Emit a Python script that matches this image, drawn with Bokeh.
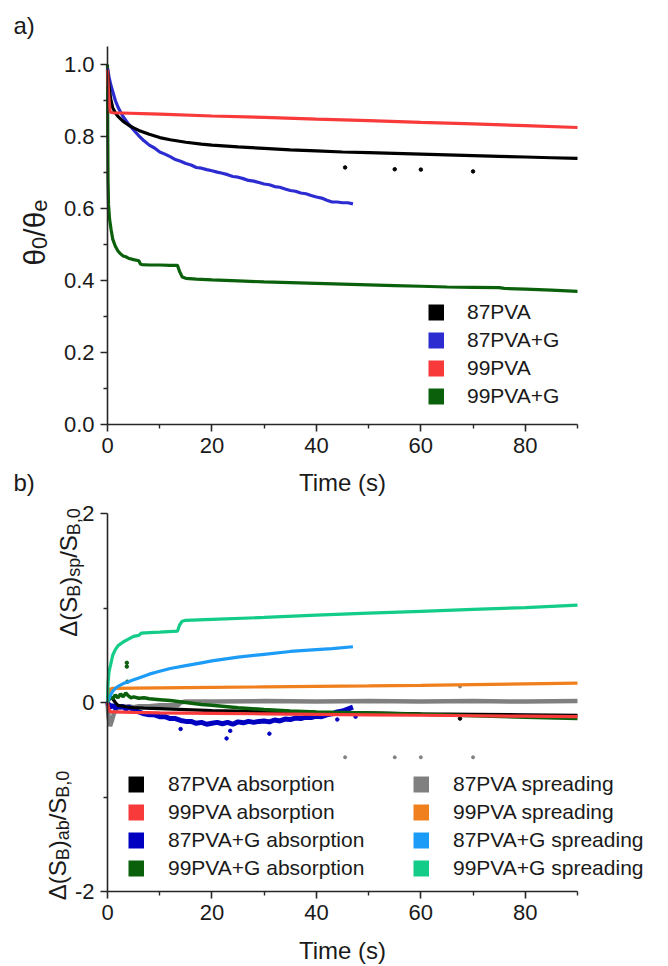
import math
from bokeh.plotting import figure
from bokeh.models import (FixedTicker, Label, Legend, LegendItem, Range1d,
                          NumeralTickFormatter)
from bokeh.layouts import column
from bokeh.embed import file_html
from bokeh.resources import INLINE

FONT = "Liberation Sans"

# ---------------- panel a) data: theta0/thetae vs time (s) ----------------
t_87 = [0, 0.3, 0.6, 1, 1.5, 2, 3, 4, 5, 6, 8, 10, 12, 15, 18, 20, 25, 30, 35, 40,
        45, 50, 55, 60, 65, 70, 75, 80, 85, 90]
y_87 = [0.985, 0.94, 0.905, 0.88, 0.866, 0.856, 0.842, 0.832, 0.824, 0.817, 0.806,
        0.797, 0.791, 0.784, 0.779, 0.776, 0.771, 0.767, 0.763, 0.760, 0.757, 0.755,
        0.753, 0.751, 0.749, 0.747, 0.745, 0.743, 0.741, 0.739]
t_87_out = [45.5, 55.0, 60.0, 70.0]
y_87_out = [0.714, 0.709, 0.708, 0.703]

t_87g = [0, 0.3, 0.6, 1, 1.5, 2, 2.5, 3, 4, 5, 6, 7, 8, 9, 10, 11, 12, 13, 14, 15,
         16, 17, 18, 19, 20, 21, 22, 23, 24, 25, 26, 27, 28, 29, 30, 31, 32, 33, 34,
         35, 36, 37, 38, 39, 40, 41, 42, 43, 44, 45, 46, 47]
y_87g = [0.99, 0.965, 0.945, 0.925, 0.9, 0.882, 0.868, 0.855, 0.835, 0.818, 0.802,
         0.788, 0.776, 0.768, 0.757, 0.751, 0.744, 0.736, 0.731, 0.725, 0.721, 0.714,
         0.712, 0.708, 0.705, 0.701, 0.698, 0.694, 0.689, 0.687, 0.683, 0.678, 0.676,
         0.672, 0.668, 0.666, 0.661, 0.659, 0.654, 0.650, 0.648, 0.643, 0.641, 0.636,
         0.632, 0.629, 0.623, 0.618, 0.618, 0.616, 0.616, 0.613]

t_99 = [0, 0.2, 0.5, 1, 10, 20, 30, 40, 50, 60, 70, 80, 90]
y_99 = [0.985, 0.92, 0.868, 0.866, 0.862, 0.857, 0.853, 0.848, 0.844, 0.839, 0.835,
        0.830, 0.825]

t_99g = [0, 0.05, 0.1, 0.2, 0.4, 0.7, 1, 1.5, 2, 2.5, 3, 3.5, 4, 5, 6, 6.3, 6.6, 8,
         10, 12, 13.4, 13.8, 14.3, 15, 17, 20, 25, 30, 35, 40, 45, 50, 55, 60, 65,
         70, 75, 76, 80, 85, 90]
y_99g = [1.0, 0.8, 0.68, 0.61, 0.57, 0.54, 0.515, 0.495, 0.482, 0.474, 0.468, 0.466,
         0.462, 0.458, 0.455, 0.446, 0.444, 0.443, 0.443, 0.442, 0.442, 0.425, 0.41,
         0.406, 0.404, 0.402, 0.399, 0.396, 0.394, 0.392, 0.390, 0.388, 0.386, 0.384,
         0.382, 0.381, 0.380, 0.378, 0.376, 0.373, 0.370]

labels_a = ["87PVA", "87PVA+G", "99PVA", "99PVA+G"]

# ---------------- panel b) data: surface change vs time (s) ----------------
t_sp99g = [0, 0.1, 0.3, 0.6, 1, 1.5, 2, 2.5, 3, 4, 5, 6, 6.5, 8, 10, 13.4, 13.8,
           14.3, 15, 20, 30, 40, 50, 60, 70, 80, 90]
y_sp99g = [0, 0.2, 0.33, 0.4, 0.5, 0.56, 0.6, 0.62, 0.64, 0.67, 0.70, 0.71, 0.735,
           0.74, 0.745, 0.755, 0.82, 0.86, 0.87, 0.88, 0.90, 0.925, 0.945, 0.965,
           0.985, 1.005, 1.03]

t_sp87g = [0, 0.3, 0.6, 1, 1.5, 2, 3, 4, 5, 6, 8, 10, 12, 15, 18, 20, 25, 30, 35,
           40, 43, 47]
y_sp87g = [0, 0.04, 0.08, 0.12, 0.15, 0.17, 0.2, 0.22, 0.24, 0.26, 0.3, 0.33, 0.36,
           0.39, 0.42, 0.44, 0.48, 0.51, 0.54, 0.56, 0.57, 0.59]

t_sp99 = [0, 0.2, 0.5, 1, 5, 10, 20, 30, 40, 50, 60, 70, 80, 90]
y_sp99 = [0, 0.1, 0.14, 0.15, 0.152, 0.155, 0.16, 0.165, 0.17, 0.175, 0.182, 0.19,
          0.197, 0.205]

t_sp87 = [0, 0.2, 0.5, 0.8, 1.2, 1.6, 2, 3, 4, 5, 6, 8, 10, 12, 13.5, 14, 15, 20,
          30, 40, 50, 60, 70, 80, 90]
y_sp87 = [0, -0.15, -0.25, -0.2, -0.12, -0.08, -0.05, -0.05, -0.04, -0.05, -0.04,
          -0.04, -0.03, -0.03, -0.03, 0.0, 0.01, 0.01, 0.015, 0.01, 0.015, 0.01,
          0.015, 0.01, 0.015]
t_sp87_out = [45.5, 55.0, 60.0, 70.0, 67.5]
y_sp87_out = [-0.58, -0.58, -0.58, -0.58, 0.17]

t_ab87 = [0, 0.3, 0.6, 1, 1.5, 2, 3, 4, 5, 7, 10, 15, 20, 25, 30, 40, 50, 60, 70,
          80, 90]
y_ab87 = [0, 0.03, 0.06, 0.04, 0.0, -0.03, -0.04, -0.05, -0.055, -0.06, -0.065,
          -0.075, -0.085, -0.09, -0.095, -0.105, -0.11, -0.12, -0.125, -0.13, -0.135]
t_ab87_out = [67.5]
y_ab87_out = [-0.17]

t_ab99 = [0, 0.2, 0.5, 1, 5, 10, 20, 30, 40, 50, 60, 70, 80, 90]
y_ab99 = [0, -0.06, -0.1, -0.1, -0.105, -0.11, -0.115, -0.12, -0.125, -0.13, -0.135,
          -0.14, -0.145, -0.15]

t_ab99g = [0, 0.3, 0.6, 1, 1.5, 2, 2.5, 3, 3.5, 4, 4.5, 5, 6, 7, 8, 10, 12, 15, 18,
           20, 25, 30, 35, 40, 45, 50, 60, 70, 80, 90]
y_ab99g = [0, 0.04, 0.06, 0.04, 0.08, 0.05, 0.09, 0.06, 0.1, 0.07, 0.05, 0.06, 0.045,
           0.05, 0.04, 0.03, 0.02, 0.0, -0.02, -0.03, -0.055, -0.075, -0.09, -0.1,
           -0.105, -0.11, -0.125, -0.14, -0.155, -0.17]
t_ab99g_out = [3.7, 3.7, 3.8]
y_ab99g_out = [0.42, 0.38, 0.22]

t_ab87g = [0, 0.5, 1, 1.5, 2, 2.5, 3, 3.5, 4, 4.5, 5, 6, 7, 8, 9, 10, 11, 12, 13, 14,
           15, 16, 17, 18, 19, 20, 21, 22, 23, 24, 25, 26, 27, 28, 29, 30, 31, 32, 33,
           34, 35, 36, 37, 38, 39, 40, 41, 42, 43, 44, 45, 46, 47]
y_ab87g = [0, -0.05, -0.03, -0.06, -0.04, -0.05, -0.04, -0.07, -0.05, -0.06, -0.08,
           -0.1, -0.12, -0.13, -0.13, -0.15, -0.15, -0.17, -0.17, -0.19, -0.2, -0.2,
           -0.22, -0.21, -0.23, -0.22, -0.21, -0.225, -0.21, -0.23, -0.205, -0.215,
           -0.2, -0.21, -0.2, -0.195, -0.205, -0.185, -0.195, -0.175, -0.18, -0.165,
           -0.17, -0.155, -0.16, -0.145, -0.15, -0.13, -0.12, -0.1, -0.09, -0.07, -0.05]
t_ab87g_out = [22.8, 23.5, 14.0, 31.0, 47.5, 44.0]
y_ab87g_out = [-0.38, -0.30, -0.28, -0.33, -0.15, -0.18]

labels_ab = ["87PVA absorption", "99PVA absorption", "87PVA+G absorption",
             "99PVA+G absorption"]
labels_sp = ["87PVA spreading", "99PVA spreading", "87PVA+G spreading",
             "99PVA+G spreading"]

x_ticks = [0, 20, 40, 60, 80]
x_minor = [10, 30, 50, 70, 90]
ya_ticks = [0.0, 0.2, 0.4, 0.6, 0.8, 1.0]
ya_minor = [0.1, 0.3, 0.5, 0.7, 0.9]
yb_ticks = [-2, 0, 2]
yb_minor = [-1, 1]
X_LIM = (0, 90)
YA_LIM = (0, 1.05)
YB_LIM = (-2, 2)

# colours
C_BLACK = "#000000"
C_BLUE_A = "#2C2CD0"
C_RED = "#F83A3A"
C_GREEN = "#0B600B"
C_BLUE_B = "#0000C0"
C_GRAY = "#808080"
C_ORANGE = "#F0801E"
C_LBLUE = "#1C9CF6"
C_TEAL = "#12CC88"

# ---------------- page geometry (pixels) ----------------
W = 668
H_PAGE = 966
H1 = 497
H2 = H_PAGE - H1
PX_X0 = 107            # page x of t = 0
PX_X90 = 577           # page x of t = 90
PA_Y0 = 424            # page y of value 0 (panel a)
PA_Y1 = 64             # page y of value 1 (panel a)
PB_Y0 = 702 - H1       # canvas y of value 0 (panel b)
PB_Y2 = 513 - H1       # canvas y of value 2 (panel b)
FIX = 9                # rendered text sits lower than its anchor by about this

sx = (PX_X90 - PX_X0) / (X_LIM[1] - X_LIM[0])
x_range_all = (X_LIM[0] - PX_X0 / sx, X_LIM[0] + (W - PX_X0) / sx)
sa = (PA_Y0 - PA_Y1) / 1.0
ya_range = ((PA_Y0 - H1) / sa, PA_Y0 / sa)
sb = (PB_Y0 - PB_Y2) / 2.0
yb_range = ((PB_Y0 - H2) / sb, PB_Y0 / sb)

METRIC = {'θ': 0.556, '0': 0.556, '/': 0.278, 'e': 0.556, 'Δ': 0.668, '(': 0.333,
          ')': 0.333, 'S': 0.667, 'B': 0.667, 's': 0.5, 'p': 0.556, 'a': 0.556,
          'b': 0.556, ',': 0.278}


def text_w(s, size):
    return sum(METRIC.get(ch, 0.556) for ch in s) * size


def make_fig(h, yr, ytick, yminor, ylim):
    p = figure(width=W, height=h, x_range=Range1d(*x_range_all), y_range=Range1d(*yr),
               output_backend="svg", toolbar_location=None, title=None,
               min_border=0, min_border_left=0, min_border_right=0,
               min_border_top=0, min_border_bottom=0)
    p.outline_line_color = None
    p.grid.visible = False
    for ax in (p.xaxis[0], p.yaxis[0]):
        ax.axis_line_color = "#262626"
        ax.axis_line_width = 1.6
        ax.major_tick_line_color = "#262626"
        ax.minor_tick_line_color = "#262626"
        ax.major_tick_line_width = 1.6
        ax.minor_tick_line_width = 1.4
        ax.major_tick_in = 0
        ax.major_tick_out = 7
        ax.minor_tick_in = 0
        ax.minor_tick_out = 4
        ax.major_label_text_font = FONT
        ax.major_label_text_font_size = "22px"
        ax.major_label_text_color = "#1a1a1a"
    p.xaxis[0].ticker = FixedTicker(ticks=x_ticks, minor_ticks=x_minor)
    p.yaxis[0].ticker = FixedTicker(ticks=ytick, minor_ticks=yminor)
    p.xaxis[0].bounds = X_LIM
    p.yaxis[0].bounds = ylim
    p.xaxis[0].fixed_location = ylim[0]
    p.yaxis[0].fixed_location = X_LIM[0]
    p.xaxis[0].major_label_standoff = 6
    p.yaxis[0].major_label_standoff = 6
    return p


def add_text(p, x, y, text, size, align="left", angle=0.0):
    # x, y: canvas pixels from left / bottom (alphabetic baseline anchor)
    if angle == 0.0:
        y = y + FIX
    else:
        x = x - FIX
    p.add_layout(Label(x=x, y=y, x_units="screen", y_units="screen", text=text,
                       text_font=FONT, text_font_size=f"{size}px", text_color="#1a1a1a",
                       text_align=align, text_baseline="alphabetic", angle=angle))


def vertical_rich(p, pieces, x_base, y_center, main, sub, shift):
    total = sum(text_w(t, sub if s else main) for t, s in pieces)
    cur = y_center - total / 2.0
    for t, s in pieces:
        size = sub if s else main
        add_text(p, x_base + (shift if s else 0), cur, t, size, angle=math.pi / 2)
        cur += text_w(t, size)


def make_legend(p, labels, cols, xs, ys, loc, standoff):
    items = []
    for lab, c, xx, yy in zip(labels, cols, xs, ys):
        # one-point proxy line: draws nothing in the plot, gives a square key
        r = p.line([xx[0]], [yy[0]], line_color=c, line_width=16)
        items.append(LegendItem(label=lab, renderers=[r]))
    leg = Legend(items=items, location=loc, glyph_width=16, glyph_height=28,
                 label_height=28, spacing=0, padding=0, margin=0,
                 label_standoff=standoff, label_text_font=FONT,
                 label_text_font_size="21px", label_text_color="#1a1a1a",
                 border_line_color=None, background_fill_alpha=0)
    p.add_layout(leg)


# ---------------- panel a ----------------
p1 = make_fig(H1, ya_range, ya_ticks, ya_minor, YA_LIM)
p1.yaxis[0].formatter = NumeralTickFormatter(format="0.0")

p1.line(t_99g, y_99g, line_color=C_GREEN, line_width=3.2)
p1.line(t_87g, y_87g, line_color=C_BLUE_A, line_width=3.2)
p1.line(t_87, y_87, line_color=C_BLACK, line_width=3.2)
p1.scatter(t_87_out, y_87_out, size=3.5, color=C_BLACK)
p1.line(t_99, y_99, line_color=C_RED, line_width=3.2)

make_legend(p1, labels_a, [C_BLACK, C_BLUE_A, C_RED, C_GREEN],
            [t_87, t_87g, t_99, t_99g], [y_87, y_87g, y_99, y_99g],
            (428, H1 - 410), 23)

add_text(p1, 13, H1 - 34, "a)", 24)
add_text(p1, 13, H1 - 491, "b)", 24)
add_text(p1, (PX_X0 + PX_X90) / 2.0, H1 - 491, "Time (s)", 24, align="center")
vertical_rich(p1, [("θ", False), ("0", True), ("/", False), ("θ", False), ("e", True)],
              43, H1 - 232, 30, 22, 5)

# ---------------- panel b ----------------
p2 = make_fig(H2, yb_range, yb_ticks, yb_minor, YB_LIM)
p2.yaxis[0].major_label_overrides = {-2: "-2", 0: "0", 2: "2"}

p2.line(t_sp87, y_sp87, line_color=C_GRAY, line_width=4.5)
p2.scatter(t_sp87_out, y_sp87_out, size=3, color=C_GRAY)
p2.line(t_ab87g, y_ab87g, line_color=C_BLUE_B, line_width=5)
p2.scatter(t_ab87g_out, y_ab87g_out, size=3.5, color=C_BLUE_B)
p2.line(t_ab87, y_ab87, line_color=C_BLACK, line_width=3.2)
p2.scatter(t_ab87_out, y_ab87_out, size=3.5, color=C_BLACK)
p2.line(t_ab99g, y_ab99g, line_color=C_GREEN, line_width=3.5)
p2.scatter(t_ab99g_out, y_ab99g_out, size=3.5, color=C_GREEN)
p2.line(t_ab99, y_ab99, line_color=C_RED, line_width=3.2)
p2.line(t_sp99, y_sp99, line_color=C_ORANGE, line_width=3.2)
p2.line(t_sp87g, y_sp87g, line_color=C_LBLUE, line_width=3.2)
p2.line(t_sp99g, y_sp99g, line_color=C_TEAL, line_width=3.2)

make_legend(p2, labels_ab, [C_BLACK, C_RED, C_BLUE_B, C_GREEN],
            [t_ab87, t_ab99, t_ab87g, t_ab99g], [y_ab87, y_ab99, y_ab87g, y_ab99g],
            (128, H_PAGE - 882), 24)
make_legend(p2, labels_sp, [C_GRAY, C_ORANGE, C_LBLUE, C_TEAL],
            [t_sp87, t_sp99, t_sp87g, t_sp99g], [y_sp87, y_sp99, y_sp87g, y_sp99g],
            (413, H_PAGE - 882), 24)

add_text(p2, (PX_X0 + PX_X90) / 2.0, H_PAGE - 959, "Time (s)", 24, align="center")
vertical_rich(p2, [("Δ(S", False), ("B", True), (")", False), ("sp", True),
                   ("/S", False), ("B,0", True)],
              77, H_PAGE - 572, 24, 18, 5)
vertical_rich(p2, [("Δ(S", False), ("B", True), (")", False), ("ab", True),
                   ("/S", False), ("B,0", True)],
              66, H_PAGE - 835, 24, 18, 5)

layout = column(p1, p2, spacing=0)
open("out.html", "w").write(file_html(layout, INLINE))
